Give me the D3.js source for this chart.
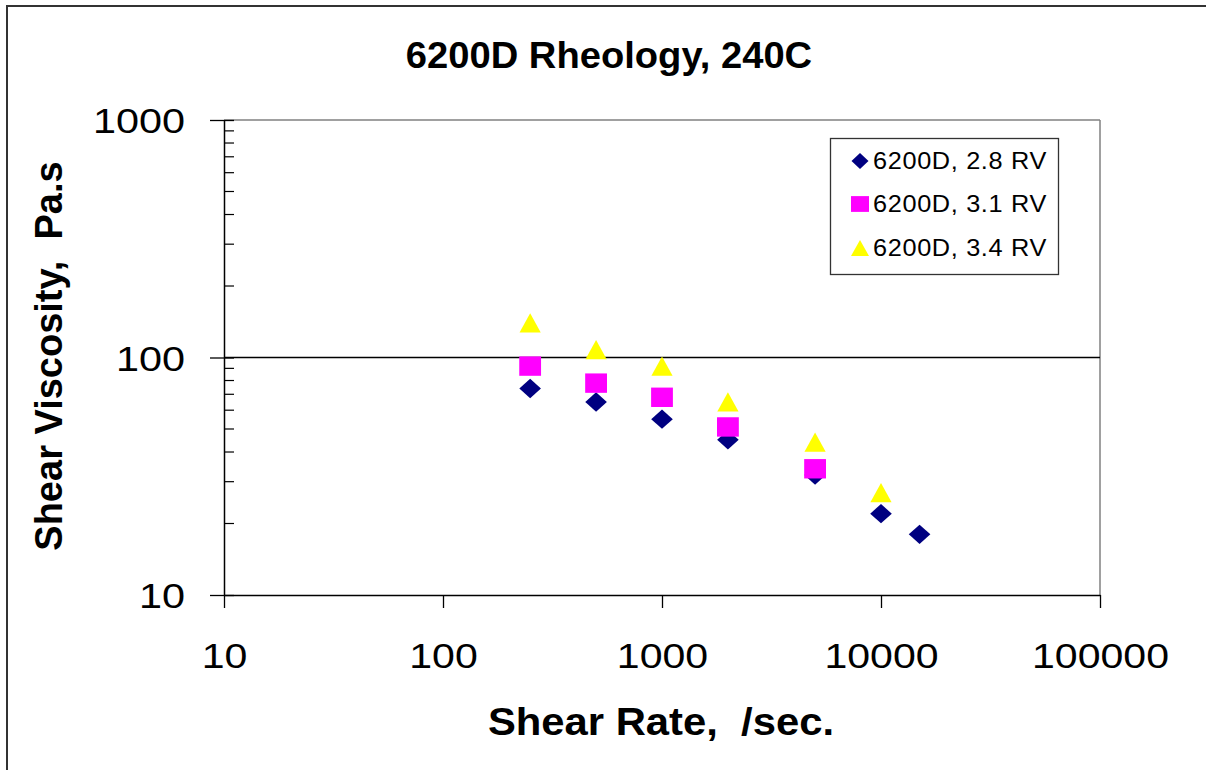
<!DOCTYPE html>
<html><head><meta charset="utf-8">
<script src="https://cdn.jsdelivr.net/npm/d3@7"></script>
<style>body{margin:0;background:#fff}svg{display:block}text{font-family:Arial,"Liberation Sans",sans-serif;fill:#000}</style>
</head><body><svg width="1206" height="770"></svg>
<script>
// ---- data ----
const rates28 = [250, 500, 1000, 2000, 5000, 10000, 15000];
const visc28  = [74, 65, 55, 45, 32, 22, 18];
const rates31 = [250, 500, 1000, 2000, 5000];
const visc31  = [92, 78, 68, 51, 34];
const rates34 = [250, 500, 1000, 2000, 5000, 10000];
const visc34  = [140, 108, 92, 65, 44, 27];
const seriesNames = ["6200D, 2.8 RV", "6200D, 3.1 RV", "6200D, 3.4 RV"];
const xTicks = [10, 100, 1000, 10000, 100000];
const yTicks = [10, 100, 1000];
const yMinor = [20,30,40,50,60,70,80,90,200,300,400,500,600,700,800,900];

const svg = d3.select("svg");
const L = 224, R = 1100, T = 120, B = 595;
const x = d3.scaleLog().domain([10, 100000]).range([L, R]);
const y = d3.scaleLog().domain([10, 1000]).range([B, T]);

function stretch(sel, sx) {
  sel.each(function () {
    const t = d3.select(this);
    const px = +t.attr("x") || 0;
    t.attr("transform", `translate(${px},0) scale(${sx},1) translate(${-px},0)`);
  });
}

// outer border
svg.append("rect").attr("x", 7).attr("y", 6).attr("width", 1260).attr("height", 820)
  .attr("fill", "none").attr("stroke", "#333").attr("stroke-width", 2);

// title
const title = svg.append("text").attr("x", 609).attr("y", 68).attr("text-anchor", "middle")
  .attr("font-size", 36).attr("font-weight", "bold").text("6200D Rheology, 240C");
stretch(title, 1.06);

// plot frame (top & right gray)
svg.append("line").attr("x1", L).attr("x2", R).attr("y1", T).attr("y2", T).attr("stroke", "#808080").attr("stroke-width", 1.5);
svg.append("line").attr("x1", R).attr("x2", R).attr("y1", T).attr("y2", B).attr("stroke", "#808080").attr("stroke-width", 1.5);
// gridline at 100
svg.append("line").attr("x1", L).attr("x2", R).attr("y1", y(100)).attr("y2", y(100)).attr("stroke", "#000").attr("stroke-width", 1.3);

// y axis
const yAxis = svg.append("g").attr("transform", `translate(${L},0)`)
  .call(d3.axisLeft(y).tickValues(yTicks).tickSize(14).tickSizeOuter(0).tickPadding(25).tickFormat(d3.format("d")));
yAxis.select(".domain").attr("stroke", "#000").attr("stroke-width", 1.5);
yAxis.selectAll(".tick line").attr("x1", 10).attr("stroke", "#000").attr("stroke-width", 1.3);
yAxis.selectAll(".tick text").attr("font-size", 36).attr("font-family", "Arial, 'Liberation Sans', sans-serif").attr("dy", "0.36em");
stretch(yAxis.selectAll(".tick text"), 1.15);
yAxis.selectAll(".minor").data(yMinor).enter().append("line").attr("class", "minor")
  .attr("x1", 0).attr("x2", 10).attr("y1", d => y(d)).attr("y2", d => y(d))
  .attr("stroke", "#000").attr("stroke-width", 1.2);

// x axis
const xAxis = svg.append("g").attr("transform", `translate(0,${B})`)
  .call(d3.axisBottom(x).tickValues(xTicks).tickSize(13).tickSizeOuter(0).tickFormat(d3.format("d")));
xAxis.select(".domain").attr("stroke", "#000").attr("stroke-width", 1.5);
xAxis.selectAll(".tick line").attr("stroke", "#000").attr("stroke-width", 1.3);
xAxis.selectAll(".tick text").attr("font-size", 36).attr("font-family", "Arial, 'Liberation Sans', sans-serif").attr("y", 73).attr("dy", 0);
stretch(xAxis.selectAll(".tick text"), 1.14);

// axis titles
const xt = svg.append("text").attr("x", 661).attr("y", 735).attr("text-anchor", "middle")
  .attr("font-size", 38).attr("font-weight", "bold").attr("xml:space", "preserve").text("Shear Rate,  /sec.");
stretch(xt, 1.1);
svg.append("text").attr("transform", "translate(62,356) rotate(-90)").attr("text-anchor", "middle")
  .attr("font-size", 38).attr("font-weight", "bold").attr("xml:space", "preserve").text("Shear Viscosity,  Pa.s");

// markers
const diamond = (w, h) => `M0,${-h}L${w},0L0,${h}L${-w},0Z`;
const square = (w, h) => `M${-w},${-h}L${w},${-h}L${w},${h}L${-w},${h}Z`;
const triangle = (w, h) => `M0,${-h}L${w},${h}L${-w},${h}Z`;

const series = [
  {name: seriesNames[0], rates: rates28, vals: visc28, color: "#000080", shape: diamond, big: [10.8, 9.7], small: [8.5, 8]},
  {name: seriesNames[1], rates: rates31, vals: visc31, color: "#FF00FF", shape: square, big: [10.9, 9.7], small: [9, 7.9]},
  {name: seriesNames[2], rates: rates34, vals: visc34, color: "#FFFF00", shape: triangle, big: [10.6, 9.6], small: [9, 8]}
];

series.forEach(s => {
  svg.append("g").selectAll("path").data(s.rates.map((r, i) => [r, s.vals[i]])).enter().append("path")
    .attr("transform", d => `translate(${x(d[0])},${y(d[1])})`)
    .attr("d", s.shape(s.big[0], s.big[1])).attr("fill", s.color);
});

// legend
const lg = svg.append("g");
lg.append("rect").attr("x", 830.5).attr("y", 138.5).attr("width", 228).attr("height", 136)
  .attr("fill", "#fff").attr("stroke", "#333").attr("stroke-width", 1.3);
const rowY = [161, 204, 248];
series.forEach((s, i) => {
  lg.append("path").attr("transform", `translate(860,${rowY[i]})`).attr("d", s.shape(s.small[0], s.small[1])).attr("fill", s.color);
  const t = lg.append("text").attr("x", 873).attr("y", rowY[i] + 8).attr("font-size", 23)
    .attr("letter-spacing", 0.6).text(s.name);
  stretch(t, 1.1);
});
</script></body></html>
